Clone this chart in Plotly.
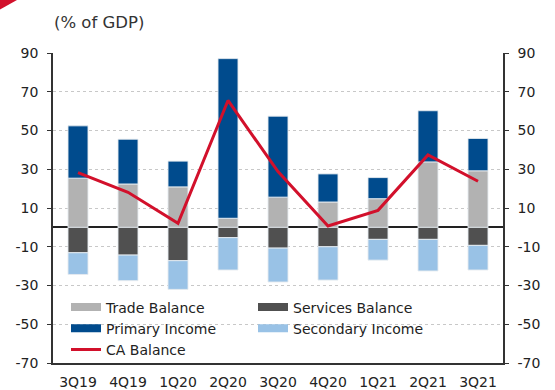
import plotly.graph_objects as go

quarters = ["3Q19", "4Q19", "1Q20", "2Q20", "3Q20", "4Q20", "1Q21", "2Q21", "3Q21"]
trade_balance = [25.4, 22.4, 20.9, 4.7, 15.6, 13.1, 14.8, 33.8, 29.2]
services_balance = [-13.1, -14.3, -17.2, -5.3, -10.7, -10.0, -6.2, -6.2, -9.3]
primary_income = [27.0, 23.1, 13.3, 82.4, 41.8, 14.5, 10.9, 26.4, 16.7]
secondary_income = [-11.2, -13.2, -14.8, -16.7, -17.5, -17.2, -10.7, -16.3, -12.7]
ca_balance = [28.3, 18.1, 2.1, 65.5, 28.8, 0.7, 8.8, 37.4, 23.8]
y_ticks = [-70, -50, -30, -10, 10, 30, 50, 70, 90]
y_tick_labels = ["-70", "-50", "-30", "-10", "10", "30", "50", "70", "90"]

C_TRADE = "#B2B2B2"
C_SERV = "#505050"
C_PRIM = "#004B8D"
C_SEC = "#99C2E6"
C_CA = "#D2102B"
FONT = "DejaVu Sans"

fig = go.Figure()
bar_specs = [
    ("Trade Balance", trade_balance, C_TRADE),
    ("Services Balance", services_balance, C_SERV),
    ("Primary Income", primary_income, C_PRIM),
    ("Secondary Income", secondary_income, C_SEC),
]
for name, vals, col in bar_specs:
    fig.add_trace(go.Bar(x=quarters, y=vals, name=name,
                         marker=dict(color=col, line=dict(color="rgba(230,235,240,0.9)", width=1)),
                         width=0.4, showlegend=False, legendgroup=name))
fig.add_trace(go.Scatter(x=quarters, y=ca_balance, mode="lines", name="CA Balance",
                         line=dict(color=C_CA, width=3), showlegend=False, legendgroup="CA Balance"))
# legend proxies
for name, vals, col in bar_specs:
    fig.add_trace(go.Scatter(x=[None], y=[None], mode="lines", name=name,
                             line=dict(color=col, width=8), legendgroup=name))
fig.add_trace(go.Scatter(x=[None], y=[None], mode="lines", name="CA Balance",
                         line=dict(color=C_CA, width=3), legendgroup="CA Balance"))
# right axis dummy
fig.add_trace(go.Scatter(x=[quarters[0]], y=[None], yaxis="y2", showlegend=False, hoverinfo="skip"))

L, R, T, B = 53, 52, 53, 27
W, H = 555, 390
pw, ph = W - L - R, H - T - B

def px(x):
    return (x - L) / pw
def py(y):
    return (H - B - y) / ph

fig.update_layout(
    width=W, height=H, margin=dict(l=L, r=R, t=T, b=B, autoexpand=False),
    paper_bgcolor="white", plot_bgcolor="white",
    barmode="relative", bargap=0.6,
    font=dict(family=FONT, size=14, color="#222"),
    xaxis=dict(showgrid=False, showline=True, linecolor="#333", linewidth=1.5, ticks="outside",
               ticklen=5, tickcolor="rgba(0,0,0,0)", tickfont=dict(size=14),
               range=[-0.5, 8.5]),
    yaxis=dict(range=[-70, 90], tickvals=y_ticks, ticktext=y_tick_labels, showgrid=True,
               gridcolor="#C8C8C8", griddash="dot",
               gridwidth=1, showline=True, linecolor="#333", linewidth=1.5, ticks="outside", ticklen=4,
               tickcolor="#333", zeroline=True, zerolinecolor="#222", zerolinewidth=1.5,
               ticklabelstandoff=6, tickfont=dict(size=14)),
    yaxis2=dict(range=[-70, 90], tickvals=y_ticks, ticktext=y_tick_labels, overlaying="y", side="right",
                showgrid=False, showline=True, linecolor="#333", linewidth=1.5, ticks="outside", ticklen=4,
                tickcolor="#333", zeroline=False, ticklabelstandoff=6, tickfont=dict(size=14)),
    legend=dict(orientation="h", x=px(66), y=py(291.5), xanchor="left", yanchor="top",
                entrywidth=142, entrywidthmode="pixels", bgcolor="rgba(0,0,0,0)",
                font=dict(size=14), tracegroupgap=0, itemwidth=30),
    showlegend=True,
)
fig.add_annotation(text="(% of GDP)", xref="paper", yref="paper", x=px(52), y=py(22.7),
                   xanchor="left", yanchor="middle", showarrow=False, font=dict(size=16.5, color="#333"))
fig.add_shape(type="path", xref="paper", yref="paper",
              path=f"M {px(0)} {py(0)} L {px(17)} {py(0)} L {px(0)} {py(9.5)} Z",
              fillcolor=C_CA, line=dict(width=0))

fig.write_html("out.html")
